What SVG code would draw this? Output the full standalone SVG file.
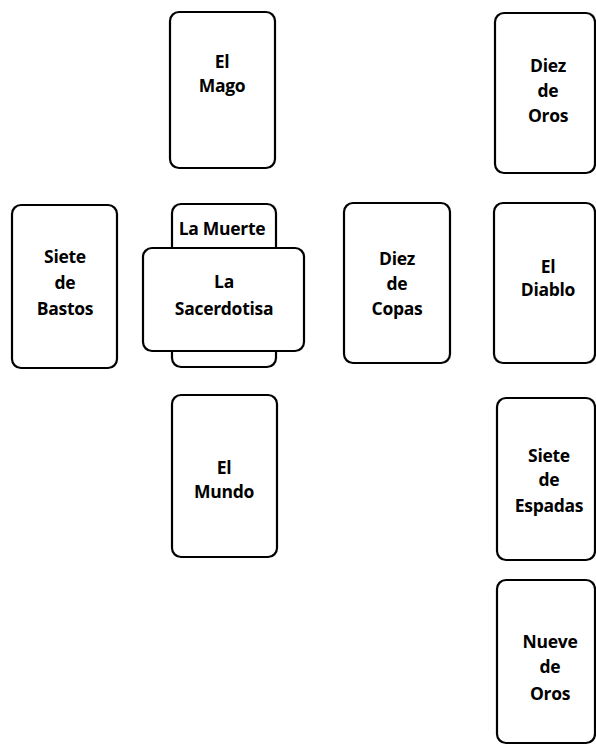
<svg xmlns="http://www.w3.org/2000/svg" width="596" height="747" viewBox="0 0 596 747">
<style>
.card{fill:#fff;stroke:#000;stroke-width:2.2}
.t{font-family:"Open Sans","Liberation Sans",sans-serif;font-weight:700;font-size:17.5px;letter-spacing:-0.3px;fill:#000;text-anchor:middle}
</style>
<rect width="596" height="747" fill="#fff"/>
<g id="el-mago">
<rect class="card" x="170" y="12" width="105" height="156" rx="9"/>
<text class="t" x="222" y="68">El</text>
<text class="t" x="222" y="92">Mago</text>
</g>
<g id="diez-de-oros">
<rect class="card" x="495" y="13" width="100" height="160" rx="9"/>
<text class="t" x="548" y="72">Diez</text>
<text class="t" x="548" y="97">de</text>
<text class="t" x="548" y="122">Oros</text>
</g>
<g id="siete-de-bastos">
<rect class="card" x="12" y="205" width="105" height="163" rx="9"/>
<text class="t" x="65" y="263">Siete</text>
<text class="t" x="65" y="289">de</text>
<text class="t" x="65" y="315">Bastos</text>
</g>
<g id="la-muerte">
<rect class="card" x="172" y="204" width="104" height="163" rx="9"/>
<text class="t" x="222" y="235">La Muerte</text>
</g>
<g id="la-sacerdotisa">
<rect class="card" x="143" y="248" width="161" height="103" rx="9"/>
<text class="t" x="224" y="288">La</text>
<text class="t" x="224" y="315">Sacerdotisa</text>
</g>
<g id="diez-de-copas">
<rect class="card" x="344" y="203" width="106" height="160" rx="9"/>
<text class="t" x="397" y="265">Diez</text>
<text class="t" x="397" y="290">de</text>
<text class="t" x="397" y="315">Copas</text>
</g>
<g id="el-diablo">
<rect class="card" x="494" y="203" width="101" height="160" rx="9"/>
<text class="t" x="548" y="273">El</text>
<text class="t" x="548" y="296">Diablo</text>
</g>
<g id="el-mundo">
<rect class="card" x="172" y="395" width="105" height="162" rx="9"/>
<text class="t" x="224" y="474">El</text>
<text class="t" x="224" y="498">Mundo</text>
</g>
<g id="siete-de-espadas">
<rect class="card" x="497" y="398" width="98" height="162" rx="9"/>
<text class="t" x="549" y="462">Siete</text>
<text class="t" x="549" y="486">de</text>
<text class="t" x="549" y="512">Espadas</text>
</g>
<g id="nueve-de-oros">
<rect class="card" x="497" y="580" width="98" height="163" rx="9"/>
<text class="t" x="550" y="648">Nueve</text>
<text class="t" x="550" y="673">de</text>
<text class="t" x="550" y="700">Oros</text>
</g>
<g id="connectors"></g>
</svg>
